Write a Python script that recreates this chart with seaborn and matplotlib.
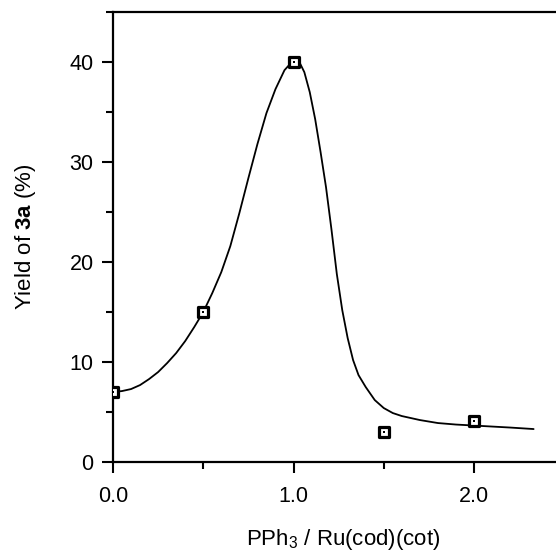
import numpy as np
import pandas as pd
import matplotlib
matplotlib.use("Agg")
import matplotlib.pyplot as plt
from matplotlib.ticker import MultipleLocator, FormatStrFormatter
import seaborn as sns

# measured points
ratio = [0.0, 0.5, 1.0, 1.5, 2.0]
yield_pct = [7.0, 15.0, 40.0, 3.0, 4.1]

# fitted curve
curve_x = [0.0, 0.05, 0.1, 0.15, 0.2, 0.25, 0.3, 0.35, 0.4, 0.45, 0.5,
           0.55, 0.6, 0.65, 0.7, 0.75, 0.8, 0.85, 0.9, 0.95, 1.0, 1.03,
           1.06, 1.09, 1.12, 1.15, 1.18, 1.21, 1.24, 1.27, 1.30, 1.33,
           1.36, 1.40, 1.45, 1.50, 1.55, 1.60, 1.70, 1.80, 1.90, 2.0,
           2.1, 2.2, 2.33]
curve_y = [7.0, 7.1, 7.3, 7.7, 8.3, 9.0, 9.9, 10.9, 12.1, 13.5, 15.0,
           16.9, 19.0, 21.6, 24.9, 28.4, 31.8, 34.9, 37.3, 39.2, 40.2, 40.1,
           39.0, 37.0, 34.3, 31.0, 27.5, 23.3, 18.8, 15.2, 12.4, 10.2,
           8.7, 7.5, 6.2, 5.4, 4.9, 4.6, 4.2, 3.9, 3.75, 3.65,
           3.55, 3.45, 3.3]

pts = pd.DataFrame({"ratio": ratio, "yield": yield_pct})
fit = pd.DataFrame({"ratio": curve_x, "yield": curve_y})

sns.set_style("ticks")
plt.rcParams["font.family"] = ["Liberation Sans", "DejaVu Sans"]
plt.rcParams["mathtext.fontset"] = "custom"
plt.rcParams["mathtext.rm"] = "Liberation Sans"
plt.rcParams["mathtext.it"] = "Liberation Sans:italic"
plt.rcParams["mathtext.bf"] = "Liberation Sans:bold"
plt.rcParams["text.color"] = "black"
plt.rcParams["axes.labelcolor"] = "black"

fig = plt.figure(figsize=(5.56, 5.54), dpi=100)
ax = fig.add_axes([0.2032, 0.166, 0.7968, 0.812])

sns.lineplot(data=fit, x="ratio", y="yield", color="black", linewidth=1.3,
             ax=ax, zorder=2)
sns.scatterplot(data=pts, x="ratio", y="yield", marker="s", s=45,
                facecolor="white", edgecolor="black", linewidth=2.3,
                ax=ax, zorder=3)
sns.scatterplot(data=pts, x="ratio", y="yield", marker="s", s=2,
                color="black", linewidth=0, ax=ax, zorder=4)

ax.set_xlim(0, 2.454)
ax.set_ylim(0, 45)
ax.xaxis.set_major_locator(MultipleLocator(1.0))
ax.xaxis.set_minor_locator(MultipleLocator(0.5))
ax.xaxis.set_major_formatter(FormatStrFormatter("%.1f"))
ax.yaxis.set_major_locator(MultipleLocator(10))
ax.yaxis.set_minor_locator(MultipleLocator(5))

ax.tick_params(axis="both", which="major", direction="out", length=8,
               width=1.5, labelsize=15.5, color="black", labelcolor="black")
ax.tick_params(axis="both", which="minor", direction="out", length=5,
               width=1.5, color="black")
ax.tick_params(axis="x", which="major", pad=9)
ax.tick_params(axis="y", which="major", pad=6)

for side in ["left", "bottom", "top"]:
    ax.spines[side].set_linewidth(1.6)
    ax.spines[side].set_color("black")
ax.spines["right"].set_visible(False)

ax.set_xlabel("PPh$_3$ / Ru(cod)(cot)", fontsize=16)
ax.set_ylabel("Yield of $\\mathbf{3a}$ (%)", fontsize=16)
ax.xaxis.set_label_coords(0.52, -0.145)
ax.yaxis.set_label_coords(-0.17, 0.5)

fig.savefig("out.png", dpi=100)
